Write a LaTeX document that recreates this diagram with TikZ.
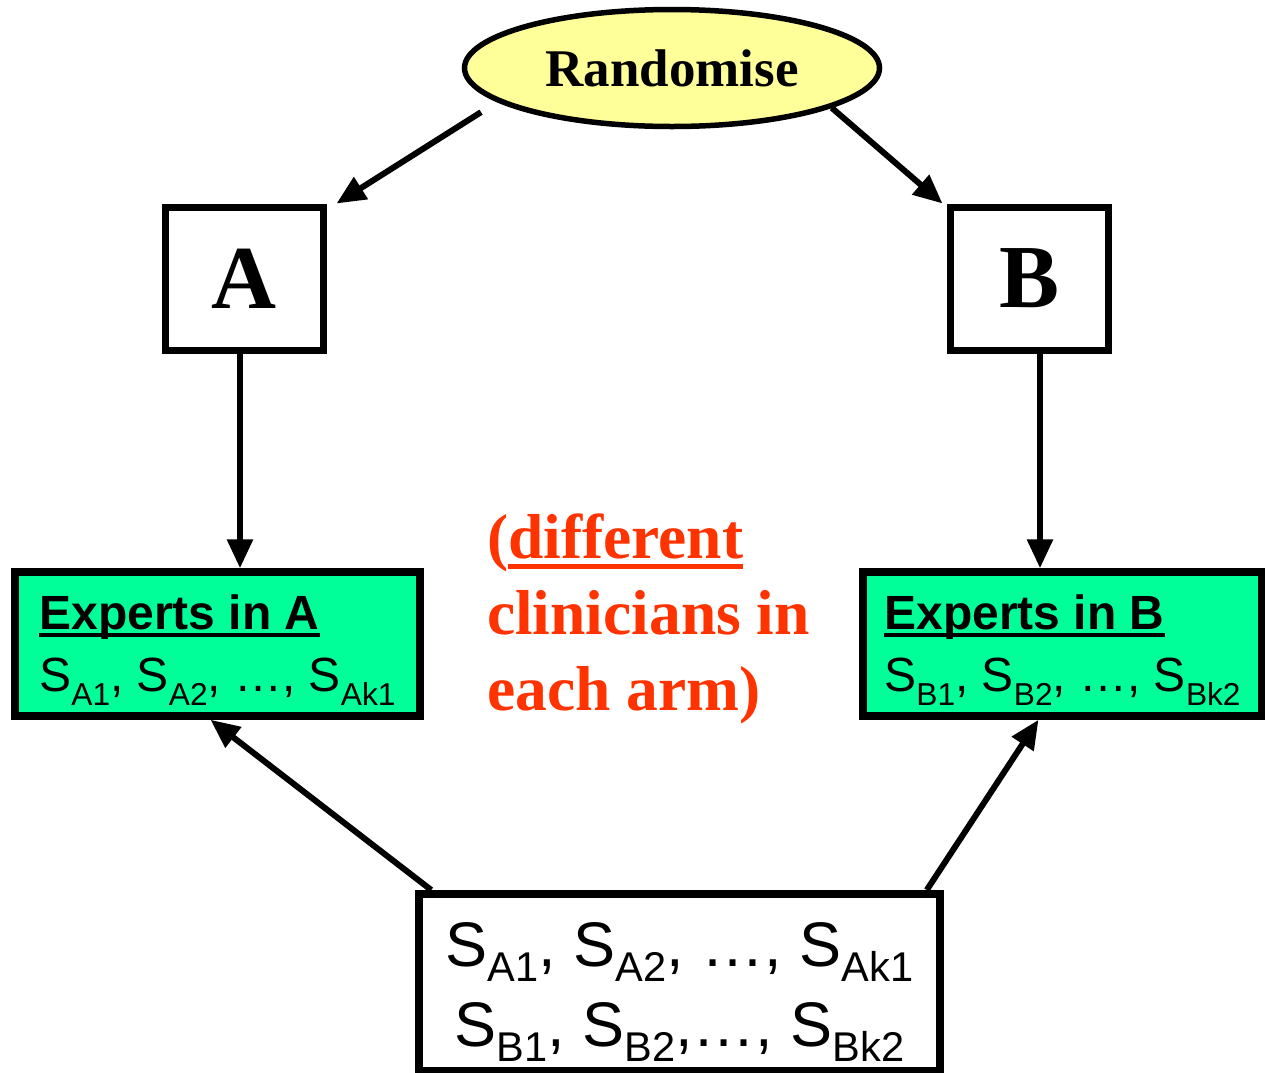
\documentclass[tikz,border=0pt]{standalone}
\usepackage{fontspec}
\setmainfont{Liberation Serif}
\newfontfamily\arial{Liberation Sans}
\usetikzlibrary{arrows.meta}
\usetikzlibrary{shapes.geometric}

\definecolor{randyellow}{HTML}{FFFF99}
\definecolor{expgreen}{HTML}{00FF99}
\definecolor{notered}{HTML}{FF3300}

%% lowered index after S, and a heavy underline
\newcommand\lowidx[2][0.3em]{\raisebox{-#1}{\scalebox{0.66}{#2}}}
\newcommand\thickul[1]{\setbox0\hbox{#1}\rlap{\rule[-0.17em]{\wd0}{0.09em}}\box0}

\begin{document}
\begin{tikzpicture}[x = 1pt, y = -1pt,
    box/.style = {draw, line width = 7pt, inner sep = 0pt},
    expbox/.style = {box, line width = 7.5pt, fill = expgreen, minimum height = 144pt,
        align = left, font = \arial\fontsize{48}{62}\selectfont},
    conn/.style = {-{Triangle[length=29pt, width=25pt]}, line width = 6pt}]
    \path[use as bounding box, clip] (0, 0) rectangle (1265, 1072);

    %% randomisation
    \node[ellipse, draw, line width = 5.5pt, fill = randyellow, inner sep = 0pt,
        minimum width = 415pt, minimum height = 117pt,
        font = \fontsize{53}{60}\selectfont\bfseries] (rand) at (672, 68) {Randomise};

    %% arms
    \node[box, minimum width = 158pt, minimum height = 143pt,
        font = \fontsize{90}{100}\selectfont\bfseries] (armA) at (244, 278.5) {A};
    \node[box, minimum width = 158pt, minimum height = 143pt,
        font = \fontsize{90}{100}\selectfont\bfseries] (armB) at (1029, 278.5) {B};

    %% experts in each arm
    \node[expbox, minimum width = 405pt] (expA) at (217.5, 644)
        {\rule{0pt}{47pt}{\bfseries\thickul{Experts in A}}\\
         S\lowidx{A1}, S\lowidx{A2}, …, S\lowidx{Ak1}};
    \node[expbox, minimum width = 399pt] (expB) at (1062.5, 644)
        {\rule{0pt}{47pt}{\bfseries\thickul{Experts in B}}\\
         S\lowidx{B1}, S\lowidx{B2}, …, S\lowidx{Bk2}};

    \node[align = left, text = notered, font = \fontsize{63.5}{76}\selectfont\bfseries]
        (note) at (648.5, 619) {(\thickul{different}\\ clinicians in\\ each arm)};

    %% pool of clinicians
    \node[box, line width = 7.5pt, anchor = north, minimum width = 521pt,
        inner sep = 9pt, align = center, font = \arial\fontsize{63}{80}\selectfont]
        (pool) at (679.5, 890)
        {\rule{0pt}{64pt}S\lowidx[0.23em]{A1}, S\lowidx[0.23em]{A2}, …, S\lowidx[0.23em]{Ak1}\\
         S\lowidx[0.23em]{B1}, S\lowidx[0.23em]{B2},…, S\lowidx[0.23em]{Bk2}};

    %% connectors
    \draw[conn, shorten <= 19pt] (rand.191.8) -- ([xshift = 10pt]armA.north east);
    \draw[conn] (rand.-14.7) -- ([xshift = -4pt]armB.north west);
    \draw[conn] ([xshift = -4pt]armA.south) -- ([xshift = -4pt]armA.south |- expA.north);
    \draw[conn] ([xshift = 11pt]armB.south) -- ([xshift = 11pt]armB.south |- expB.north);
    \draw[conn] ([xshift = 16pt]pool.north west) -- ([xshift = -7pt]expA.south);
    \draw[conn] ([xshift = -17pt]pool.north east) -- ([xshift = -24pt]expB.south);
\end{tikzpicture}
\end{document}
